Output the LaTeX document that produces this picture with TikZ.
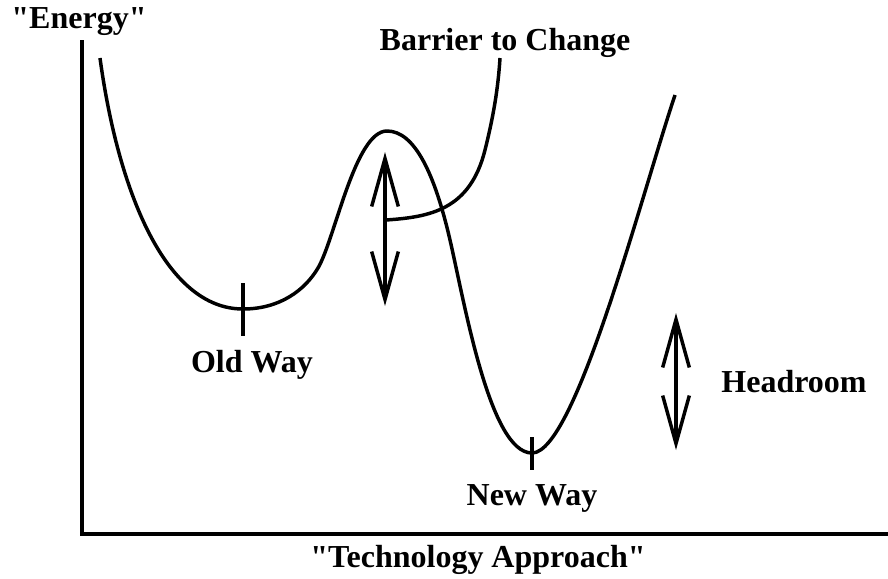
\documentclass[tikz,border=0pt]{standalone}
\usepackage{fontspec}
\setmainfont{Liberation Serif}
\usetikzlibrary{arrows.meta}
\tikzset{
  lbl/.style={font=\bfseries\fontsize{24}{28}\selectfont, inner sep=0pt, anchor=base},
  curve/.style={line width=2.6pt, line join=round},
  updown/.style={line width=2.4pt, {Straight Barb[length=36pt,width=20pt,line width=2.6pt]}-{Straight Barb[length=36pt,width=20pt,line width=2.6pt]}}
}
\newcommand{\qt}{\textquotedbl}
\begin{document}
\begin{tikzpicture}[x=0.75pt,y=-0.75pt]
  \useasboundingbox (0,0) rectangle (888,578);
  % axes
  \coordinate (top) at (82,40);
  \coordinate (origin) at (82,534);
  \coordinate (right) at (888,534);
  \draw[line width=3.6pt] (top) -- (origin) -- (right);
  \node[lbl] (energy) at (79,28) {\qt Energy\qt};
  \node[lbl] (approach) at (478,567) {\qt Technology Approach\qt};
  % energy landscape
  \draw[curve] (100,58) .. controls (118,190) and (165,309) .. (243,309)
    .. controls (280,309) and (305,290) .. (318,268)
    .. controls (335,239) and (355,131) .. (387,131)
    .. controls (415,131) and (435,175) .. (450,240)
    .. controls (465,305) and (490,453) .. (532,453)
    .. controls (575,453) and (640,200) .. (675,95);
  % barrier
  \draw[curve] (386,220) .. controls (430,217) and (470,210) .. (485,150)
    .. controls (493,118) and (498,90) .. (500,58);
  \node[lbl] (barrier) at (505,50) {Barrier to Change};
  % minima
  \coordinate (oldtop) at (243,283);
  \coordinate (oldbot) at (243,336);
  \draw[line width=2.4pt] (oldtop) -- (oldbot);
  \node[lbl] (oldway) at (252,372) {Old Way};
  \coordinate (newtop) at (532,437);
  \coordinate (newbot) at (532,470);
  \draw[line width=2.4pt] (newtop) -- (newbot);
  \node[lbl] (newway) at (532,505) {New Way};
  % arrows
  \coordinate (b1) at (385,152);
  \coordinate (b2) at (385,306);
  \draw[updown] (b1) -- (b2);
  \coordinate (h1) at (676,313);
  \coordinate (h2) at (676,450);
  \draw[updown] (h1) -- (h2);
  \node[lbl] (headroom) at (794,392) {Headroom};
\end{tikzpicture}
\end{document}
